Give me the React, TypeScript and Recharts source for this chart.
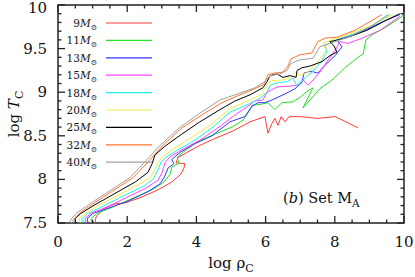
import React from 'react';
import { LineChart, Line, XAxis, YAxis, ReferenceArea } from 'recharts';

type Pt = [number, number];

// log rho_C, log T_C tracks
const m9: Pt[] = [
  [1.07, 7.5], [1.1, 7.57], [1.3, 7.66], [1.65, 7.72], [1.94, 7.73], [2.37, 7.79], [2.89, 7.88],
  [3.29, 7.97], [3.55, 8.06], [3.64, 8.13], [3.67, 8.18], [3.41, 8.19], [3.47, 8.25], [3.73, 8.31],
  [4.1, 8.39], [4.54, 8.47], [5.03, 8.55], [5.55, 8.66], [5.98, 8.72], [6.07, 8.53], [6.18, 8.64],
  [6.27, 8.7], [6.36, 8.62], [6.45, 8.72], [6.56, 8.66], [6.68, 8.72], [6.99, 8.72], [7.51, 8.7],
  [8.01, 8.72], [8.32, 8.66], [8.67, 8.59],
];
const m11: Pt[] = [
  [0.98, 7.5], [0.95, 7.55], [1.13, 7.61], [1.56, 7.68], [2.14, 7.78], [2.72, 7.88], [3.06, 7.97],
  [3.24, 8.06], [3.29, 8.14], [3.5, 8.19], [3.44, 8.25], [3.61, 8.31], [4.02, 8.43], [4.54, 8.52],
  [5.03, 8.6], [5.35, 8.68], [5.55, 8.8], [5.61, 8.85], [5.84, 8.86], [6.07, 8.88], [6.27, 8.8],
  [6.47, 8.88], [6.79, 8.89], [6.99, 8.94], [7.2, 9.01], [7.37, 9.05], [7.08, 8.82], [7.57, 9.04],
  [7.95, 9.15], [8.29, 9.28], [8.67, 9.4], [8.82, 9.44], [8.9, 9.6], [9.08, 9.66], [9.45, 9.74],
  [9.88, 9.85], [10.0, 9.9],
];
const m13: Pt[] = [
  [0.87, 7.5], [0.84, 7.55], [1.01, 7.61], [1.45, 7.67], [2.02, 7.75], [2.6, 7.86], [2.95, 7.95],
  [3.09, 8.04], [3.18, 8.13], [3.35, 8.18], [3.29, 8.23], [3.53, 8.31], [3.96, 8.41], [4.45, 8.5],
  [4.97, 8.66], [5.4, 8.72], [5.61, 8.84], [5.78, 8.88], [5.98, 8.88], [6.18, 8.91], [6.56, 8.98],
  [6.85, 9.04], [7.05, 9.11], [7.11, 9.22], [7.31, 9.24], [7.51, 9.22], [7.72, 9.31], [8.01, 9.42],
  [8.21, 9.52], [8.06, 9.6], [8.29, 9.63], [8.87, 9.71], [9.39, 9.81], [9.88, 9.89],
];
const m15: Pt[] = [
  [0.81, 7.5], [0.78, 7.55], [0.95, 7.61], [1.39, 7.68], [1.97, 7.79], [2.54, 7.9], [2.89, 7.99],
  [3.01, 8.08], [3.09, 8.19], [3.24, 8.26], [3.58, 8.34], [4.1, 8.45], [4.62, 8.59], [5.12, 8.74],
  [5.49, 8.84], [5.69, 8.9], [5.92, 8.91], [6.04, 9.0], [6.33, 9.06], [6.71, 9.07], [6.91, 9.08],
  [7.08, 9.14], [7.23, 9.08], [7.37, 9.14], [7.57, 9.23], [7.77, 9.35], [8.01, 9.48], [8.15, 9.58],
  [8.38, 9.56], [8.79, 9.62], [9.31, 9.71], [9.88, 9.87],
];
const m18: Pt[] = [
  [0.72, 7.5], [0.69, 7.55], [0.87, 7.61], [1.3, 7.69], [1.88, 7.81], [2.46, 7.92], [2.75, 8.0],
  [2.89, 8.11], [2.98, 8.2], [3.18, 8.27], [3.47, 8.34], [3.96, 8.45], [4.45, 8.59], [4.97, 8.77],
  [5.49, 8.86], [5.84, 8.93], [6.04, 9.0], [6.13, 9.08], [6.36, 9.11], [6.62, 9.12], [6.79, 9.16],
  [6.91, 9.07], [7.08, 9.14], [7.34, 9.23], [7.57, 9.33], [7.77, 9.46], [7.72, 9.54], [8.01, 9.59],
  [8.5, 9.66], [9.08, 9.76], [9.6, 9.89],
];
const m20: Pt[] = [
  [0.64, 7.5], [0.61, 7.55], [0.78, 7.61], [1.21, 7.71], [1.79, 7.83], [2.37, 7.95], [2.66, 8.02],
  [2.8, 8.11], [2.89, 8.2], [3.09, 8.28], [3.38, 8.36], [3.82, 8.47], [4.39, 8.62], [4.97, 8.81],
  [5.49, 8.9], [5.9, 8.98], [6.01, 9.07], [6.16, 9.13], [6.47, 9.14], [6.71, 9.16], [6.88, 9.23],
  [6.99, 9.19], [7.23, 9.23], [7.51, 9.35], [7.75, 9.48], [7.66, 9.56], [7.92, 9.6], [8.44, 9.67],
  [9.08, 9.77], [9.68, 9.89],
];
const m25: Pt[] = [
  [0.52, 7.5], [0.49, 7.55], [0.66, 7.61], [1.07, 7.71], [1.65, 7.84], [2.23, 7.97], [2.6, 8.08],
  [2.72, 8.18], [2.8, 8.28], [3.09, 8.38], [3.58, 8.52], [4.1, 8.66], [4.68, 8.8], [5.12, 8.9],
  [5.55, 8.97], [5.92, 9.05], [6.04, 9.12], [6.13, 9.19], [6.33, 9.21], [6.5, 9.17], [6.71, 9.19],
  [6.88, 9.17], [6.91, 9.25], [7.05, 9.28], [7.28, 9.3], [7.63, 9.35], [7.86, 9.42], [8.06, 9.46],
  [7.98, 9.53], [7.86, 9.58], [8.09, 9.6], [8.38, 9.63], [8.93, 9.71], [9.51, 9.83], [9.88, 9.9],
];
const m32: Pt[] = [
  [0.46, 7.5], [0.43, 7.53], [0.61, 7.61], [1.01, 7.72], [1.59, 7.87], [2.17, 8.02], [2.6, 8.2],
  [3.03, 8.39], [3.58, 8.59], [4.16, 8.74], [4.74, 8.88], [5.26, 8.97], [5.69, 9.04], [5.95, 9.09],
  [6.07, 9.2], [6.27, 9.22], [6.5, 9.23], [6.65, 9.3], [6.73, 9.38], [6.99, 9.43], [7.34, 9.45],
  [7.51, 9.58], [7.72, 9.62], [8.06, 9.63], [8.58, 9.71], [9.02, 9.81], [9.36, 9.89],
];
const m40: Pt[] = [
  [0.4, 7.5], [0.35, 7.53], [0.52, 7.61], [0.92, 7.72], [1.5, 7.87], [2.08, 8.02], [2.51, 8.2],
  [2.95, 8.39], [3.53, 8.6], [4.1, 8.76], [4.68, 8.91], [5.26, 8.99], [5.69, 9.05], [5.98, 9.12],
  [6.13, 9.19], [6.42, 9.21], [6.62, 9.25], [6.73, 9.33], [6.99, 9.37], [7.37, 9.39], [7.57, 9.52],
  [7.86, 9.56], [8.44, 9.64], [9.02, 9.75], [9.54, 9.89],
];

const masses = ['9', '11', '13', '15', '18', '20', '25', '32', '40'];
const tracks = [m9, m11, m13, m15, m18, m20, m25, m32, m40];
const colors = ['#ff3a3a', '#22e022', '#3636ff', '#ff44ff', '#22eeee', '#eeee44', '#000000', '#ff7430', '#a0a0a0'];

const xTicks = [0, 0.5, 1, 1.5, 2, 2.5, 3, 3.5, 4, 4.5, 5, 5.5, 6, 6.5, 7, 7.5, 8, 8.5, 9, 9.5, 10];
const yTicks = [
  7.5, 7.6, 7.7, 7.8, 7.9, 8, 8.1, 8.2, 8.3, 8.4, 8.5, 8.6, 8.7, 8.8, 8.9,
  9, 9.1, 9.2, 9.3, 9.4, 9.5, 9.6, 9.7, 9.8, 9.9, 10,
];

const SERIF = "'DejaVu Serif', 'Liberation Serif', serif";
const W = 415;
const H = 277;
const LEFT = 58;
const RIGHT = 404;
const TOP = 5;
const BOTTOM = 223;
const txt = { fontFamily: SERIF, fill: '#111' };

const isMajorX = (v: number) => Math.abs(v / 2 - Math.round(v / 2)) < 1e-6;
const isMajorY = (v: number) => Math.abs(v * 2 - Math.round(v * 2)) < 1e-6;

function XTick(props: any) {
  const { x, payload } = props;
  const v = payload.value;
  const len = isMajorX(v) ? 7 : 3.5;
  return (
    <g>
      <line x1={x} x2={x} y1={BOTTOM} y2={BOTTOM - len} stroke="#222" strokeWidth={1.3} />
      <line x1={x} x2={x} y1={TOP} y2={TOP + len} stroke="#222" strokeWidth={1.3} />
      {isMajorX(v) && (
        <text x={x} y={247} textAnchor="middle" fontSize={15} style={txt}>
          {v}
        </text>
      )}
    </g>
  );
}

function YTick(props: any) {
  const { y, payload } = props;
  const v = payload.value;
  const len = isMajorY(v) ? 7 : 3.5;
  return (
    <g>
      <line x1={LEFT} x2={LEFT + len} y1={y} y2={y} stroke="#222" strokeWidth={1.3} />
      <line x1={RIGHT} x2={RIGHT - len} y1={y} y2={y} stroke="#222" strokeWidth={1.3} />
      {isMajorY(v) && (
        <text x={47} y={Math.max(y + 5, 13)} textAnchor="end" fontSize={15} style={txt}>
          {Number(v.toFixed(1))}
        </text>
      )}
    </g>
  );
}

export default function App() {
  const series = tracks.map((t) => t.map(([x, y]) => ({ x, y })));
  return (
    <div style={{ position: 'absolute', left: 0, top: 0, width: W, height: H, background: '#fff' }}>
      <LineChart width={W} height={H} margin={{ top: TOP, right: W - RIGHT, left: 0, bottom: 0 }}>
        <XAxis
          type="number"
          dataKey="x"
          domain={[0, 10]}
          ticks={xTicks}
          interval={0}
          height={H - BOTTOM}
          axisLine={false}
          tickLine={false}
          tick={(p: any) => <XTick {...p} />}
          allowDataOverflow
        />
        <YAxis
          type="number"
          domain={[7.5, 10]}
          ticks={yTicks}
          interval={0}
          width={LEFT}
          axisLine={false}
          tickLine={false}
          tick={(p: any) => <YTick {...p} />}
          allowDataOverflow
        />
        {series.map((d, i) => (
          <Line
            key={masses[i]}
            data={d}
            dataKey="y"
            type="linear"
            stroke={colors[i]}
            strokeWidth={1}
            dot={false}
            activeDot={false}
            isAnimationActive={false}
          />
        ))}
        <ReferenceArea x1={0} x2={10} y1={7.5} y2={10} fill="none" stroke="#222" strokeWidth={1.5} ifOverflow="visible" />
      </LineChart>
      <svg width={W} height={H} style={{ position: 'absolute', left: 0, top: 0, pointerEvents: 'none' }}>
        {masses.map((m, i) => {
          const cy = 23 + i * 17.4;
          return (
            <g key={m}>
              <text x={97} y={cy + 4} textAnchor="end" fontSize={10.5} style={txt}>
                {m}
                <tspan fontStyle="italic">M</tspan>
                <tspan fontSize={7.5} dy={3}>⊙</tspan>
              </text>
              <line x1={106} x2={152} y1={cy} y2={cy} stroke={colors[i]} strokeWidth={1.2} />
            </g>
          );
        })}
        <text x={231} y={268} textAnchor="middle" fontSize={15} style={txt}>
          log ρ<tspan fontSize={11} dy={4}>C</tspan>
        </text>
        <text transform="translate(19,114) rotate(-90)" textAnchor="middle" fontSize={15} style={txt}>
          log <tspan fontStyle="italic">T</tspan>
          <tspan fontSize={11} dy={4}>C</tspan>
        </text>
        <text x={283} y={203} fontSize={14.5} style={txt}>
          (<tspan fontStyle="italic">b</tspan>) Set M<tspan fontSize={10.5} dy={4}>A</tspan>
        </text>
      </svg>
    </div>
  );
}
